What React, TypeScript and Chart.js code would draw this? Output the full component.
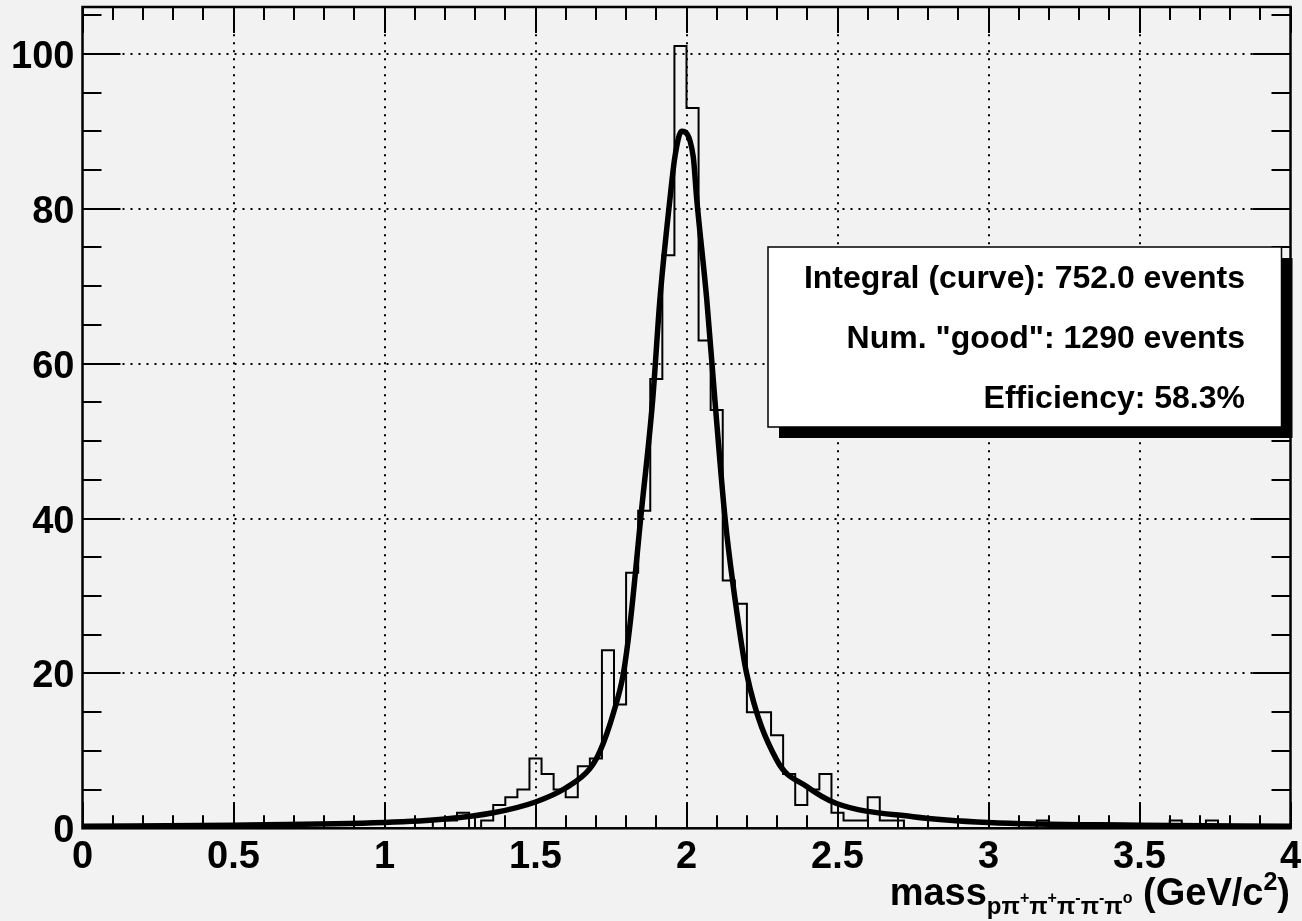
import React, { useEffect, useRef } from "react";
import { Chart, registerables } from "chart.js";

Chart.register(...registerables);

// ---- data ----
const xMin = 0;
const xMax = 4;
const binCounts = [
  0, 0, 0, 0, 0, 0, 0, 0, 0, 0,
  0, 0, 0, 0, 0, 0, 0, 0, 0, 0,
  0, 0, 0, 0, 0, 0, 0, 0, 0, 1,
  1, 2, 0, 1, 3, 4, 5, 9, 7, 5,
  4, 8, 9, 23, 16, 33, 41, 58, 74, 101,
  93, 63, 54, 32, 29, 15, 15, 12, 7, 3,
  5, 7, 2, 1, 1, 4, 1, 1, 0, 0,
  0, 0, 0, 0, 0, 0, 0, 0, 0, 1,
  0, 0, 0, 0, 0, 0, 0, 0, 0, 0,
  1, 0, 0, 1, 0, 0, 0, 0, 0, 0,
];
const curveX = [0, 0.5, 1.0, 1.2, 1.36, 1.5, 1.6, 1.68, 1.714, 1.758, 1.791, 1.815, 1.849, 1.888, 1.912, 1.945, 1.962, 1.984, 2.022, 2.034, 2.067, 2.094, 2.127, 2.161, 2.199, 2.299, 2.398, 2.497, 2.75, 3.0, 3.5, 4.0];
const curveY = [0.25, 0.4, 0.75, 1.2, 2.0, 3.4, 5.2, 7.7, 10, 14.9, 20, 27, 40.3, 55.3, 68.3, 81.2, 86.8, 90, 86.8, 81.2, 68.3, 55.3, 40.3, 29.5, 20, 8.8, 5.4, 3.2, 1.5, 0.75, 0.4, 0.25];
const yMax = 106.05;
const xTickValues = [0, 0.5, 1, 1.5, 2, 2.5, 3, 3.5, 4];
const xMinorStep = 0.1;
const yTickValues = [0, 20, 40, 60, 80, 100];
const yMinorStep = 5;
const boxLines = ["Integral (curve): 752.0 events", "Num. \"good\": 1290 events", "Efficiency: 58.3%"];

const FONT = "'Liberation Sans', Arial, Helvetica, sans-serif";
const BG = "#f2f2f2";

const decorPlugin = {
  id: "decor",
  beforeDraw(chart: any) {
    const { ctx, width, height } = chart;
    ctx.save();
    ctx.fillStyle = BG;
    ctx.fillRect(0, 0, width, height);
    ctx.restore();
  },
  beforeDatasetsDraw(chart: any) {
    const { ctx, chartArea, scales } = chart;
    const { left, right, top, bottom } = chartArea;
    ctx.save();
    ctx.strokeStyle = "#000";
    ctx.lineWidth = 2;
    ctx.setLineDash([2, 6]);
    for (const v of xTickValues) {
      if (v === xMin || v === xMax) continue;
      const px = Math.round(scales.x.getPixelForValue(v));
      ctx.beginPath();
      ctx.moveTo(px, bottom);
      ctx.lineTo(px, top);
      ctx.stroke();
    }
    for (const v of yTickValues) {
      if (v === 0) continue;
      const py = Math.round(scales.y.getPixelForValue(v));
      ctx.beginPath();
      ctx.moveTo(left, py);
      ctx.lineTo(right, py);
      ctx.stroke();
    }
    ctx.restore();
  },
  afterDatasetsDraw(chart: any) {
    const { ctx, chartArea, scales } = chart;
    const { left, right, top, bottom } = chartArea;
    ctx.save();
    ctx.strokeStyle = "#000";
    ctx.lineWidth = 2;
    ctx.setLineDash([]);
    // x ticks (bottom and top)
    const nx = Math.round((xMax - xMin) / xMinorStep);
    for (let i = 0; i <= nx; i++) {
      const v = xMin + i * xMinorStep;
      const major = xTickValues.some((t) => Math.abs(t - v) < 1e-6);
      const len = major ? 26 : 13;
      const px = Math.round(scales.x.getPixelForValue(v));
      ctx.beginPath();
      ctx.moveTo(px, bottom);
      ctx.lineTo(px, bottom - len);
      ctx.moveTo(px, top);
      ctx.lineTo(px, top + len);
      ctx.stroke();
    }
    // y ticks (left and right)
    for (let v = 0; v <= yMax; v += yMinorStep) {
      const major = yTickValues.some((t) => Math.abs(t - v) < 1e-6);
      const len = major ? 38 : 19;
      const py = Math.round(scales.y.getPixelForValue(v));
      ctx.beginPath();
      ctx.moveTo(left, py);
      ctx.lineTo(left + len, py);
      ctx.moveTo(right, py);
      ctx.lineTo(right - len, py);
      ctx.stroke();
    }
    // frame
    ctx.lineWidth = 2.5;
    ctx.strokeRect(left, top, right - left, bottom - top);

    // tick labels
    ctx.fillStyle = "#000";
    ctx.font = `bold 38px ${FONT}`;
    ctx.textAlign = "center";
    ctx.textBaseline = "alphabetic";
    for (const v of xTickValues) {
      ctx.fillText(String(v), scales.x.getPixelForValue(v), 868);
    }
    ctx.textAlign = "right";
    for (const v of yTickValues) {
      ctx.fillText(String(v), left - 8, scales.y.getPixelForValue(v) + 14);
    }

    // stats box with shadow
    const bx = 768, by = 247, bw = 513.5, bh = 180;
    ctx.fillStyle = "#000";
    ctx.fillRect(bx + 11, by + 11, bw, bh);
    ctx.fillStyle = "#fff";
    ctx.fillRect(bx, by, bw, bh);
    ctx.lineWidth = 1.5;
    ctx.strokeRect(bx, by, bw, bh);
    ctx.fillStyle = "#000";
    ctx.font = `bold 32px ${FONT}`;
    ctx.textAlign = "right";
    ctx.textBaseline = "alphabetic";
    boxLines.forEach((t, i) => {
      ctx.fillText(t, 1245, 288 + i * 60);
    });

    // axis title
    const segs = [
      { t: "mass", s: 38, dy: 0 },
      { t: "p", s: 24, dy: 9 },
      { t: "π", s: 24, dy: 9 },
      { t: "+", s: 16, dy: -2 },
      { t: "π", s: 24, dy: 9 },
      { t: "+", s: 16, dy: -2 },
      { t: "π", s: 24, dy: 9 },
      { t: "-", s: 16, dy: -2 },
      { t: "π", s: 24, dy: 9 },
      { t: "-", s: 16, dy: -2 },
      { t: "π", s: 24, dy: 9 },
      { t: "o", s: 16, dy: -2 },
      { t: " (GeV/c", s: 38, dy: 0 },
      { t: "2", s: 25, dy: -15 },
      { t: ")", s: 38, dy: 0 },
    ];
    ctx.textAlign = "left";
    let total = 0;
    for (const s of segs) {
      ctx.font = `bold ${s.s}px ${FONT}`;
      total += ctx.measureText(s.t).width;
    }
    let cx = 1290 - total;
    const base = 905;
    for (const s of segs) {
      ctx.font = `bold ${s.s}px ${FONT}`;
      ctx.fillText(s.t, cx, base + s.dy);
      cx += ctx.measureText(s.t).width;
    }
    ctx.restore();
  },
};

export default function App() {
  const ref = useRef<HTMLCanvasElement | null>(null);
  useEffect(() => {
    if (!ref.current) return;
    const binW = (xMax - xMin) / binCounts.length;
    const histPts = binCounts.map((c, i) => ({ x: xMin + i * binW, y: c }));
    histPts.push({ x: xMax, y: binCounts[binCounts.length - 1] });
    const curvePts = curveX.map((x, i) => ({ x, y: curveY[i] }));
    const chart = new Chart(ref.current, {
      type: "line",
      data: {
        datasets: [
          {
            data: histPts,
            stepped: "before" as any,
            borderColor: "#000",
            borderWidth: 2,
            pointRadius: 0,
            fill: false,
            order: 2,
          } as any,
          {
            data: curvePts,
            borderColor: "#000",
            borderWidth: 5.5,
            pointRadius: 0,
            fill: false,
            cubicInterpolationMode: "monotone",
            borderJoinStyle: "round",
            order: 1,
          } as any,
        ],
      },
      options: {
        animation: false,
        responsive: false,
        devicePixelRatio: 1,
        layout: { padding: { top: 7, right: 11.5, left: 0, bottom: 0 } },
        plugins: { legend: { display: false }, tooltip: { enabled: false } },
        scales: {
          x: {
            type: "linear",
            min: xMin,
            max: xMax,
            afterBuildTicks: (s: any) => {
              s.ticks = xTickValues.map((v) => ({ value: v }));
            },
            afterFit: (s: any) => {
              s.height = 92.7;
            },
            grid: { display: false, drawTicks: false },
            border: { display: false },
            ticks: { display: false },
          },
          y: {
            type: "linear",
            min: 0,
            max: yMax,
            afterBuildTicks: (s: any) => {
              s.ticks = yTickValues.map((v) => ({ value: v }));
            },
            afterFit: (s: any) => {
              s.width = 82.5;
            },
            grid: { display: false, drawTicks: false },
            border: { display: false },
            ticks: { display: false },
          },
        },
      },
      plugins: [decorPlugin],
    } as any);
    return () => chart.destroy();
  }, []);
  return (
    <div style={{ position: "fixed", left: 0, top: 0, width: 1302, height: 921, background: BG }}>
      <canvas ref={ref} width={1302} height={921} style={{ display: "block" }} />
    </div>
  );
}
